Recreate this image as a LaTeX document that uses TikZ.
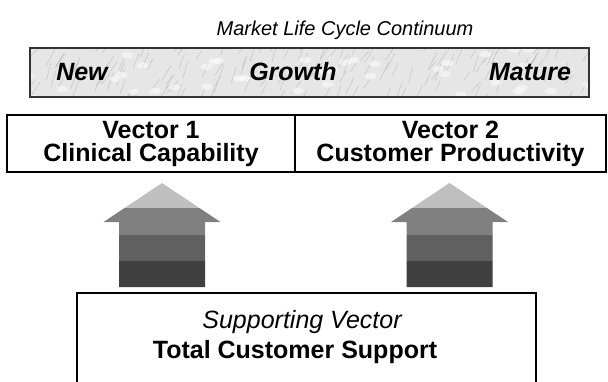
\documentclass[tikz,border=0pt]{standalone}
\usepackage{fontspec}
\setmainfont{Liberation Sans}
\usetikzlibrary{positioning}
\definecolor{marble}{HTML}{E6E6E6}
\definecolor{vein}{HTML}{9A9A9A}
\definecolor{band1}{HTML}{BFBFBF}
\definecolor{band2}{HTML}{808080}
\definecolor{band3}{HTML}{606060}
\definecolor{band4}{HTML}{404040}

\begin{document}
\begin{tikzpicture}[x=1pt,y=-1pt,line width=2pt,
    bigbold/.style={font=\fontsize{25}{23}\selectfont\bfseries},
    stage/.style={font=\fontsize{25}{24}\selectfont\bfseries\itshape,inner sep=0pt},
    vecbox/.style={draw,minimum height=57pt,align=center,bigbold,inner sep=0pt,outer sep=0pt}]
  \useasboundingbox (0,0) rectangle (608,381);
  \node[font=\fontsize{20}{24}\selectfont\itshape] (title) at (345,30) {Market Life Cycle Continuum};
  % marble bar
  \node[fill=marble,minimum width=557pt,minimum height=47pt] (cycle) at (309.5,72.5) {};
  \begin{scope}
    \clip (cycle.south west) rectangle (cycle.north east);
    \pgfmathsetseed{7}
    \foreach \i in {1,...,160}{
      \pgfmathsetmacro\vx{25+565*rnd}
      \pgfmathsetmacro\vy{49+55*rnd}
      \draw[vein,line width=0.5pt,opacity=0.45] (\vx,\vy) -- ++(4+6*rnd,-8-10*rnd);
    }
    \foreach \i in {1,...,40}{
      \pgfmathsetmacro\vx{25+565*rnd}
      \pgfmathsetmacro\vy{49+50*rnd}
      \fill[white,opacity=0.5] (\vx,\vy) ellipse (6pt and 3pt);
    }
  \end{scope}
  \draw[black!80,line width=1.5pt] (cycle.south west) rectangle (cycle.north east);
  \node[stage] (new) at (82,72) {New};
  \node[stage] (growth) at (293,72) {Growth};
  \node[stage] (mature) at (530,72) {Mature};
  % vectors
  \node[vecbox,minimum width=288pt] (vec1) at (151,143.5) {Vector 1\\Clinical Capability};
  \node[vecbox,minimum width=311pt,right=0pt of vec1] (vec2) {Vector 2\\Customer Productivity};
  % block arrows
  \foreach \cx in {162,449.5}{
    \begin{scope}
      \clip (\cx,183) -- (\cx+58.5,222) -- (\cx+43,222) -- (\cx+43,287)
        -- (\cx-43,287) -- (\cx-43,222) -- (\cx-58.5,222) -- cycle;
      \fill[band1] (\cx-60,180) rectangle (\cx+60,208);
      \fill[band2] (\cx-60,208) rectangle (\cx+60,235);
      \fill[band3] (\cx-60,235) rectangle (\cx+60,261);
      \fill[band4] (\cx-60,261) rectangle (\cx+60,290);
    \end{scope}
  }
  % support
  \node[minimum width=457pt,minimum height=100pt] (supbox) at (306.5,344) {};
  \draw (supbox.south west) -- (supbox.north west) -- (supbox.north east) -- (supbox.south east);
  \node[font=\fontsize{25}{24}\selectfont\itshape] (supkind) at (302,322) {Supporting Vector};
  \node[bigbold] (supname) at (295,352) {Total Customer Support};
\end{tikzpicture}
\end{document}
